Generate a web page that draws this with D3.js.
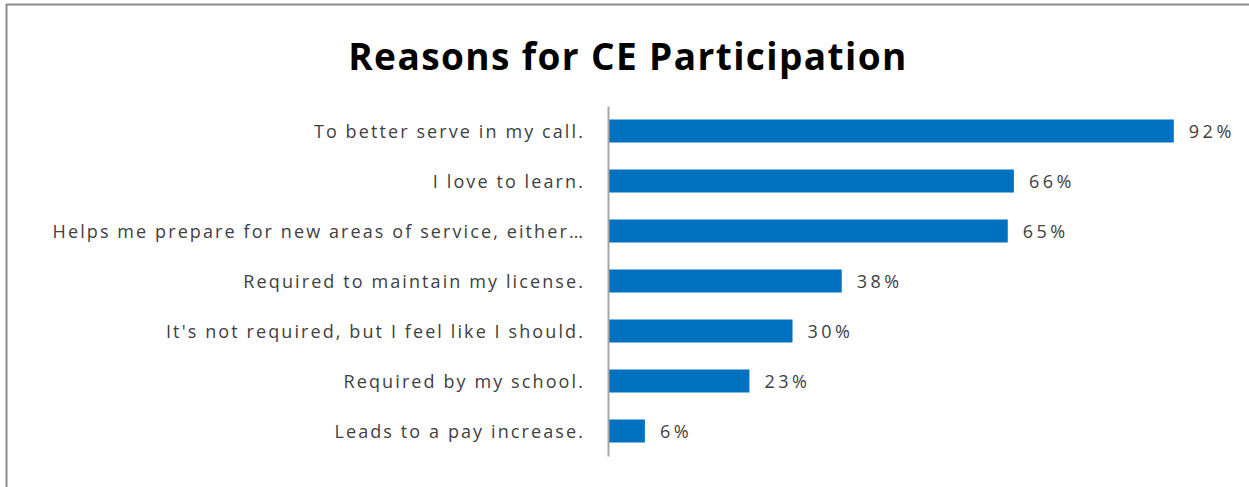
<!DOCTYPE html>
<html>
<head>
<meta charset="utf-8">
<script src="https://cdn.jsdelivr.net/npm/d3@7"></script>
<style>
  body { margin: 0; background: #fff; }
  svg { display: block; }
</style>
</head>
<body>
<div id="chart"></div>
<script>
var categories = [
	"To better serve in my call.",
	"I love to learn.",
	"Helps me prepare for new areas of service, either\u2026",
	"Required to maintain my license.",
	"It's not required, but I feel like I should.",
	"Required by my school.",
	"Leads to a pay increase."
];
var values = [92, 66, 65, 38, 30, 23, 6];
var title = "Reasons for CE Participation";

var svg_width = 1249;
var svg_height = 487;
var margin = {top: 106, left: 608, right: 60, bottom: 31};

var svg = d3.select("#chart").append("svg")
	.attr("width", svg_width)
	.attr("height", svg_height);

// chart border
svg.append("rect")
	.attr("x", 6.5).attr("y", 4.5)
	.attr("width", svg_width + 10).attr("height", svg_height)
	.attr("fill", "none").attr("stroke", "#8c8c8c").attr("stroke-width", 2);

svg.append("text")
	.attr("x", 628).attr("y", 70)
	.attr("text-anchor", "middle")
	.style("font-family", "'Open Sans', sans-serif")
	.style("font-weight", "bold")
	.style("font-size", "37px")
	.style("letter-spacing", "1.4px")
	.attr("fill", "#000")
	.text(title);

var x = d3.scaleLinear().domain([0, 100]).range([margin.left, margin.left + 615]);
var y = d3.scaleBand().domain(categories)
	.range([margin.top, svg_height - margin.bottom])
	.paddingInner(0.54).paddingOuter(0.27);

svg.selectAll(".bar")
	.data(values)
	.enter().append("rect")
	.attr("class", "bar")
	.attr("x", x(0))
	.attr("y", function(d, i) { return y(categories[i]); })
	.attr("width", function(d) { return x(d) - x(0); })
	.attr("height", y.bandwidth())
	.attr("fill", "#0070c0");

svg.selectAll(".val")
	.data(values)
	.enter().append("text")
	.attr("class", "val")
	.attr("x", function(d) { return x(d) + 15; })
	.attr("y", function(d, i) { return y(categories[i]) + y.bandwidth() / 2; })
	.attr("dy", "0.4em")
	.style("font-family", "'Open Sans', sans-serif")
	.style("font-size", "18px")
	.style("letter-spacing", "3.5px")
	.attr("fill", "#404040")
	.text(function(d) { return d + "%"; });

var yAxis = svg.append("g")
	.attr("transform", "translate(" + margin.left + ",0)")
	.call(d3.axisLeft(y).tickSize(0).tickPadding(23));
yAxis.select(".domain").attr("stroke", "#a6a6a6").attr("stroke-width", 2);
yAxis.selectAll("text")
	.attr("dy", "0.4em")
	.style("font-family", "'Open Sans', sans-serif")
	.style("font-size", "18px")
	.style("letter-spacing", "2.1px")
	.attr("fill", "#404040");
</script>
</body>
</html>
